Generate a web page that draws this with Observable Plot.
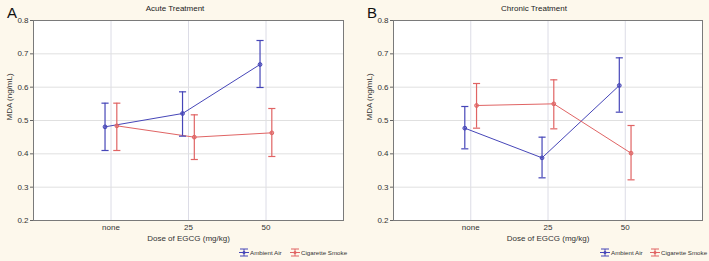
<!DOCTYPE html>
<html><head><meta charset="utf-8">
<script src="https://cdn.jsdelivr.net/npm/d3@7"></script>
<script src="https://cdn.jsdelivr.net/npm/@observablehq/plot@0.6"></script>
<style>
body{margin:0;background:#fdf8ec;font-family:"Liberation Sans",Arial,sans-serif}
#wrap{position:relative;width:709px;height:261px;background:#fdf8ec;overflow:hidden}
.panel{position:absolute;top:0;height:261px}
.panel svg{position:absolute;left:0;top:0}
.title{position:absolute;top:4px;font-size:8px;color:#222;transform:translateX(-50%);white-space:nowrap}
.letter{position:absolute;top:4px;font-size:15px;color:#111}
.leg{position:absolute;top:248px;font-size:6.2px;color:#333;white-space:nowrap;display:flex;align-items:center}
.leg svg{position:static;margin-right:1px}
</style>
</head><body>
<div id="wrap"></div>
<script>
// ---- data ----
const doses = ["none", "25", "50"];
const seriesNames = ["Ambient Air", "Cigarette Smoke"];
const seriesColors = ["#4646b8", "#e06464"];
const yTicks = [0.2, 0.3, 0.4, 0.5, 0.6, 0.7, 0.8];

const acuteAirMean   = [0.481, 0.521, 0.668];
const acuteAirLo     = [0.410, 0.453, 0.599];
const acuteAirHi     = [0.552, 0.586, 0.740];
const acuteSmokeMean = [0.484, 0.450, 0.463];
const acuteSmokeLo   = [0.410, 0.383, 0.392];
const acuteSmokeHi   = [0.552, 0.517, 0.536];

const chronicAirMean   = [0.477, 0.388, 0.605];
const chronicAirLo     = [0.415, 0.328, 0.525];
const chronicAirHi     = [0.542, 0.450, 0.688];
const chronicSmokeMean = [0.545, 0.550, 0.402];
const chronicSmokeLo   = [0.477, 0.475, 0.322];
const chronicSmokeHi   = [0.611, 0.622, 0.485];

function rows(airM, airL, airH, smM, smL, smH) {
  const out = [];
  doses.forEach((d, i) => {
    out.push({series: seriesNames[0], i, mean: airM[i], lo: airL[i], hi: airH[i], off: -0.077});
    out.push({series: seriesNames[1], i, mean: smM[i], lo: smL[i], hi: smH[i], off: 0.075});
  });
  return out;
}

const wrap = document.getElementById("wrap");

function makePanel({left, width, marginLeft, marginRight, data, title, letter, letterX, titleX, legAX, legBX}) {
  const div = document.createElement("div");
  div.className = "panel";
  div.style.left = left + "px";
  div.style.width = width + "px";
  wrap.appendChild(div);
  const cw = 0.046;
  const xp = d => d.i + d.off;
  const chart = Plot.plot({
    width, height: 261,
    marginLeft, marginRight, marginTop: 20, marginBottom: 41,
    style: {fontFamily: "Liberation Sans, Arial, sans-serif", fontSize: "8px", background: "transparent", color: "#333"},
    x: {type: "linear", domain: [-1, 3], axis: null},
    y: {domain: [0.2, 0.8], axis: null},
    color: {domain: seriesNames, range: seriesColors},
    marks: [
      Plot.frame({fill: "white", stroke: "none"}),
      Plot.gridX([0, 1, 2], {stroke: "#dcdce6", strokeOpacity: 1}),
      Plot.gridY(yTicks.slice(1, -1), {stroke: "#e0e0e0", strokeOpacity: 1}),
      Plot.axisX([0, 1, 2], {tickFormat: i => doses[i], tickSize: 0, tickPadding: 4, fontSize: 8, fill: "#333"}),
      Plot.axisY(yTicks, {tickFormat: d3.format(".1f"), tickSize: 3, tickPadding: 2, stroke: "#666", fontSize: 8, fill: "#333", label: null}),
      Plot.text(["MDA (ng/mL)"], {frameAnchor: "left", dx: -24, rotate: -90, fontSize: 8, fill: "#333"}),
      Plot.text(["Dose of EGCG (mg/kg)"], {frameAnchor: "bottom", dy: 20, fontSize: 8, fill: "#333"}),
      Plot.line(data, {x: xp, y: "mean", stroke: "series", z: "series", strokeWidth: 1}),
      Plot.ruleX(data, {x: xp, y1: "lo", y2: "hi", stroke: "series", strokeWidth: 1.2}),
      Plot.link(data, {x1: d => xp(d) - cw, x2: d => xp(d) + cw, y1: "hi", y2: "hi", stroke: "series", strokeWidth: 1.2}),
      Plot.link(data, {x1: d => xp(d) - cw, x2: d => xp(d) + cw, y1: "lo", y2: "lo", stroke: "series", strokeWidth: 1.2}),
      Plot.dot(data, {x: xp, y: "mean", stroke: "series", fill: "series", fillOpacity: 0.5, r: 1.9, strokeWidth: 1}),
      Plot.frame({stroke: "#7a7a7a", strokeWidth: 1})
    ]
  });
  div.appendChild(chart);

  const t = document.createElement("div");
  t.className = "title"; t.textContent = title; t.style.left = titleX + "px";
  div.appendChild(t);
  const l = document.createElement("div");
  l.className = "letter"; l.textContent = letter; l.style.left = letterX + "px";
  div.appendChild(l);

  [[legAX, 0], [legBX, 1]].forEach(([lx, k]) => {
    const g = document.createElement("div");
    g.className = "leg"; g.style.left = lx + "px";
    const c = seriesColors[k];
    g.innerHTML = `<svg width="10" height="9" viewBox="0 0 10 9"><line x1="1" y1="1" x2="9" y2="1" stroke="${c}"/><line x1="1" y1="8" x2="9" y2="8" stroke="${c}"/><line x1="5" y1="1" x2="5" y2="8" stroke="${c}"/><line x1="0" y1="4.5" x2="10" y2="4.5" stroke="${c}"/><circle cx="5" cy="4.5" r="1.5" fill="${c}"/></svg><span>${seriesNames[k]}</span>`;
    div.appendChild(g);
  });
}

makePanel({left: 0, width: 354, marginLeft: 33, marginRight: 11,
  data: rows(acuteAirMean, acuteAirLo, acuteAirHi, acuteSmokeMean, acuteSmokeLo, acuteSmokeHi),
  title: "Acute Treatment", letter: "A", letterX: 7, titleX: 175, legAX: 239, legBX: 290});
makePanel({left: 354, width: 355, marginLeft: 39, marginRight: 7,
  data: rows(chronicAirMean, chronicAirLo, chronicAirHi, chronicSmokeMean, chronicSmokeLo, chronicSmokeHi),
  title: "Chronic Treatment", letter: "B", letterX: 13, titleX: 180, legAX: 246, legBX: 296});
</script>
</body></html>
